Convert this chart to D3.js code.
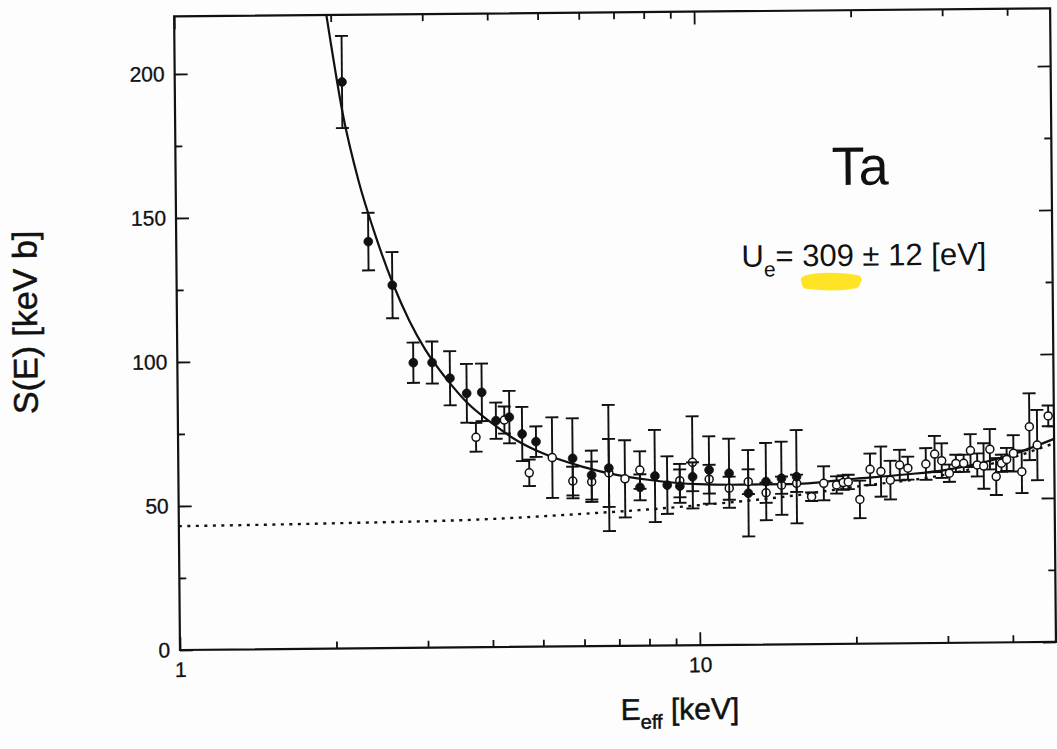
<!DOCTYPE html>
<html>
<head>
<meta charset="utf-8">
<script src="https://cdn.jsdelivr.net/npm/d3@7"></script>
<style>
  html, body { margin: 0; padding: 0; background: #fdfdfd; }
  svg { display: block; }
  text { font-family: "Liberation Sans", Arial, Helvetica, sans-serif; fill: #111; }
</style>
</head>
<body>
<svg id="chart" width="1057" height="749"></svg>
<script>
// ---- data: astrophysical S-factor of d(d,p)t in Ta, vs. effective energy ----
// filled circles
const filledE   = [2.097, 2.341, 2.599, 2.843, 3.09, 3.342, 3.597, 3.845, 4.09, 4.34, 4.59, 4.88,
                   5.735, 6.234, 6.73, 7.72, 8.25, 8.71, 9.21, 9.75, 10.49, 11.46, 12.47, 13.49, 14.45, 15.45];
const filledS   = [196.7, 141.2, 126.0, 99.0, 99.0, 93.5, 88.2, 88.5, 78.6, 79.8, 73.9, 71.2,
                   65.3, 59.4, 61.8, 55.0, 58.9, 55.7, 55.3, 58.5, 60.8, 59.6, 52.6, 56.6, 57.7, 58.2];
const filledErr = [16, 10, 11.5, 7, 7.3, 9.4, 10.2, 10, 6.3, 9.1, 9.4, 5.3,
                   13.9, 8.5, 21.9, 4.5, 16, 10, 5.8, 5, 11.7, 12, 15, 13.4, 12.7, 16.2];

// open circles
const openE   = [3.742, 4.245, 4.73, 5.24, 5.735, 6.234, 6.73, 7.225, 7.72, 9.21, 9.75, 10.49, 11.46,
                 12.47, 13.49, 14.45, 15.45, 16.5, 17.42, 18.44, 18.99, 19.42, 20.43, 21.4, 22.45, 23.4,
                 24.4, 25.3, 27.4, 28.5, 29.4, 30.4, 31.3, 32.4, 33.4, 34.4, 35.4, 36.4, 37.4, 38.3,
                 39.2, 40.4, 41.9, 43.4, 44.9, 47.2];
const openS   = [72.9, 78.8, 60.4, 65.6, 57.4, 57.1, 60.1, 58.0, 61.0, 57.2, 63.5, 57.6, 54.4,
                 56.6, 52.7, 55.3, 55.9, 51.2, 55.8, 55.2, 56.0, 56.2, 50.1, 60.5, 59.7, 56.7,
                 61.9, 60.8, 62.2, 65.6, 63.3, 58.9, 62.3, 62.3, 66.7, 61.7, 61.3, 67.1, 57.6, 62.2,
                 63.5, 65.6, 59.2, 74.8, 68.4, 78.5];
const openErr = [5, 4.7, 4.6, 14, 5, 7, 11.8, 13.4, 6.5, 5.8, 16, 5, 4,
                 4.3, 3.5, 3, 3, 1.5, 5.9, 3, 2.5, 2.5, 6.5, 5.5, 8.7, 6.7,
                 5.3, 4, 5.5, 6.3, 6, 3, 3, 3, 5.7, 4, 7.9, 7, 6.4, 3,
                 4, 6.3, 7.4, 11.6, 12.2, 3.6];

// fit with electron screening (solid) and bare-nucleus S-factor (dotted)
const fitE  = [1.94, 2.0, 2.1, 2.25, 2.4, 2.6, 2.8, 3.0, 3.3, 3.6, 4.0, 4.5, 5.0, 6.0, 7.0, 8.0,
               10, 12, 15, 20, 25, 30, 40, 48.4];
const fitS  = [226, 210, 186, 162, 145, 127, 113.5, 103.5, 93, 85, 78, 71.5, 67.3, 62.3, 59.3, 57.6,
               55.9, 55.6, 55.6, 57.3, 58.6, 60.1, 65.1, 70.5];
const bareE = [1, 2, 4, 6, 8, 10, 15, 20, 30, 40, 48.4];
const bareS = [43, 43.5, 44.5, 46, 47.3, 48.6, 51.5, 54.5, 58.5, 64, 69];

// axes
const xDomain = [1, 48.4];
const yDomain = [0, 220];
const xMajorTicks = [1, 10];
const xMinorTicks = [2, 3, 4, 5, 6, 7, 8, 9, 20, 30, 40];
const yMajorTicks = [0, 50, 100, 150, 200];
const yMinorTicks = [25, 75, 125, 175];

// texts
const yTitle = "S(E) [keV b]";
const elementName = "Ta";
const screeningValue = "309";
const screeningError = "12";

// ---- drawing ----
const ink = "#111";
const svg = d3.select("#chart");
const plotLeft = 180, plotRight = 1056, plotBottom = 650, pxPerUnit = 2.88;

const x = d3.scaleLog().domain(xDomain).range([plotLeft, plotRight]);
const y = d3.scaleLinear().domain(yDomain)
  .range([plotBottom, plotBottom - (yDomain[1] - yDomain[0]) * pxPerUnit]);
const plotTop = y(yDomain[1]);

// the whole figure sits slightly tilted on the page
const g = svg.append("g").attr("transform", `rotate(-0.53, ${plotLeft}, ${plotBottom})`);

g.append("defs").append("clipPath").attr("id", "plotClip")
  .append("rect").attr("x", plotLeft).attr("y", plotTop)
  .attr("width", plotRight - plotLeft).attr("height", plotBottom - plotTop);

function styleAxis(sel, fontSize) {
  sel.select(".domain").remove();
  sel.selectAll(".tick line").attr("stroke", ink).attr("stroke-width", 1.8);
  sel.attr("font-family", null).attr("font-size", fontSize);
  sel.selectAll("text").attr("fill", ink).attr("font-size", fontSize)
    .attr("stroke", ink).attr("stroke-width", 0.3);
}

// bottom
g.append("g").attr("transform", `translate(0,${plotBottom})`)
  .call(d3.axisBottom(x).tickValues(xMajorTicks).tickSize(-13).tickPadding(12).tickFormat(d3.format("d")))
  .call(styleAxis, 21);
g.append("g").attr("transform", `translate(0,${plotBottom})`)
  .call(d3.axisBottom(x).tickValues(xMinorTicks).tickSize(-7).tickFormat(""))
  .call(styleAxis, 21);
// top
g.append("g").attr("transform", `translate(0,${plotTop})`)
  .call(d3.axisTop(x).tickValues(xMajorTicks).tickSize(-13).tickFormat(""))
  .call(styleAxis, 21);
g.append("g").attr("transform", `translate(0,${plotTop})`)
  .call(d3.axisTop(x).tickValues(xMinorTicks).tickSize(-7).tickFormat(""))
  .call(styleAxis, 21);
// left
g.append("g").attr("transform", `translate(${plotLeft},0)`)
  .call(d3.axisLeft(y).tickValues(yMajorTicks).tickSize(-13).tickPadding(10).tickFormat(d3.format("d")))
  .call(styleAxis, 21);
g.append("g").attr("transform", `translate(${plotLeft},0)`)
  .call(d3.axisLeft(y).tickValues(yMinorTicks).tickSize(-7).tickFormat(""))
  .call(styleAxis, 21);
// right
g.append("g").attr("transform", `translate(${plotRight},0)`)
  .call(d3.axisRight(y).tickValues(yMajorTicks).tickSize(-13).tickFormat(""))
  .call(styleAxis, 21);
g.append("g").attr("transform", `translate(${plotRight},0)`)
  .call(d3.axisRight(y).tickValues(yMinorTicks).tickSize(-7).tickFormat(""))
  .call(styleAxis, 21);

// frame
g.append("rect").attr("x", plotLeft).attr("y", plotTop)
  .attr("width", plotRight - plotLeft).attr("height", plotBottom - plotTop)
  .attr("fill", "none").attr("stroke", ink).attr("stroke-width", 2.2);

const plot = g.append("g").attr("clip-path", "url(#plotClip)");

const line = d3.line().x(d => x(d[0])).y(d => y(d[1])).curve(d3.curveMonotoneX);

// bare S-factor (dotted)
plot.append("path").datum(d3.zip(bareE, bareS)).attr("d", line)
  .attr("fill", "none").attr("stroke", ink).attr("stroke-width", 2.4)
  .attr("stroke-dasharray", "3,5.5");

// screened fit (solid)
plot.append("path").datum(d3.zip(fitE, fitS)).attr("d", line)
  .attr("fill", "none").attr("stroke", ink).attr("stroke-width", 2.2);

const capHalf = 6.5;
function drawSeries(E, S, err, filled) {
  const data = d3.zip(E, S, err);
  const bars = plot.append("g").attr("stroke", ink).attr("stroke-width", 1.9).attr("fill", "none");
  const b = bars.selectAll("g").data(data).join("g");
  b.append("line").attr("x1", d => x(d[0])).attr("x2", d => x(d[0]))
    .attr("y1", d => y(d[1] + d[2])).attr("y2", d => y(d[1] - d[2]));
  b.append("line").attr("x1", d => x(d[0]) - capHalf).attr("x2", d => x(d[0]) + capHalf)
    .attr("y1", d => y(d[1] + d[2])).attr("y2", d => y(d[1] + d[2]));
  b.append("line").attr("x1", d => x(d[0]) - capHalf).attr("x2", d => x(d[0]) + capHalf)
    .attr("y1", d => y(d[1] - d[2])).attr("y2", d => y(d[1] - d[2]));
  plot.append("g").selectAll("circle").data(data).join("circle")
    .attr("cx", d => x(d[0])).attr("cy", d => y(d[1]))
    .attr("r", filled ? 4.4 : 4.0)
    .attr("fill", filled ? ink : "#fdfdfd")
    .attr("stroke", ink).attr("stroke-width", filled ? 0.8 : 1.5);
}
drawSeries(openE, openS, openErr, false);
drawSeries(filledE, filledS, filledErr, true);

// element label
g.append("text").attr("x", 836).attr("y", 191).attr("font-size", 54).text(elementName);

// screening potential label with highlighter under the value
const ue = g.append("text").attr("x", 745).attr("y", 272).attr("font-size", 31);
ue.append("tspan").text("U");
ue.append("tspan").attr("font-size", 21).attr("dy", 10).text("e");
ue.append("tspan").attr("dy", -10).text(`= ${screeningValue} \u00b1 ${screeningError} [eV]`);
const node = ue.node();
const i0 = 4, i1 = i0 + screeningValue.length - 1;
const hx0 = node.getStartPositionOfChar(i0).x + 3;
const hx1 = node.getEndPositionOfChar(i1).x + 3;
g.insert("path", () => node)
  .attr("d", `M${hx0},286 C${hx0 + 12},282 ${hx1 - 14},283 ${hx1},286 L${hx1 - 2},290 C${hx1 - 18},293 ${hx0 + 15},292 ${hx0 + 1},290 Z`)
  .attr("fill", "#ffe31a").attr("stroke", "#ffe31a").attr("stroke-width", 9)
  .attr("stroke-linejoin", "round").attr("opacity", 0.95);

// axis titles
g.append("text").attr("transform", "translate(40,321) rotate(-90)")
  .attr("text-anchor", "middle").attr("font-size", 34)
  .attr("stroke", ink).attr("stroke-width", 0.5).text(yTitle);

const xt = g.append("text").attr("x", 620).attr("y", 724).attr("font-size", 30)
  .attr("stroke", ink).attr("stroke-width", 0.5);
xt.append("tspan").text("E");
xt.append("tspan").attr("font-size", 20).attr("dy", 9).text("eff");
xt.append("tspan").attr("dy", -9).text(" [keV]");
</script>
</body>
</html>
